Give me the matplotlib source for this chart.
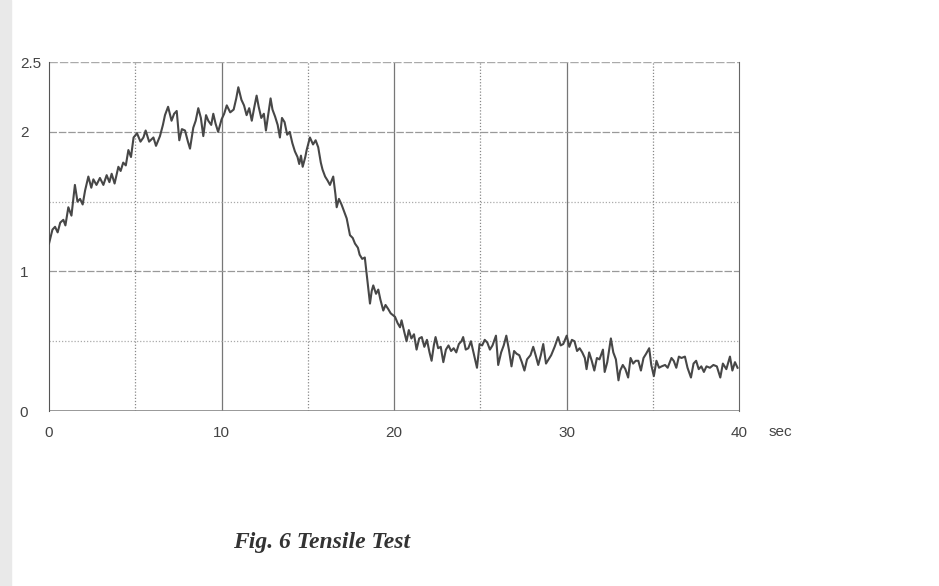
import matplotlib
matplotlib.use("Agg")
import matplotlib.pyplot as plt
from matplotlib.patches import Rectangle

# time (sec) and force readings
t = [0.0, 0.2, 0.35, 0.5, 0.65, 0.83, 0.95, 1.12, 1.3, 1.5, 1.65, 1.8, 1.95, 2.09, 2.28,
     2.45, 2.57, 2.75, 2.95, 3.15, 3.34, 3.5, 3.63, 3.8, 4.02, 4.15, 4.3, 4.45, 4.6, 4.75,
     4.9, 5.1, 5.3, 5.47, 5.6, 5.8, 6.05, 6.2, 6.43, 6.6, 6.72, 6.9, 7.1, 7.25, 7.4,
     7.55, 7.7, 7.88, 8.05, 8.17, 8.36, 8.5, 8.65, 8.8, 8.94, 9.1, 9.23, 9.4, 9.52, 9.65,
     9.8, 10.0, 10.15, 10.3, 10.5, 10.7, 10.85, 10.97, 11.15, 11.3, 11.45, 11.6, 11.75, 11.9, 12.03,
     12.15, 12.3, 12.45, 12.57, 12.7, 12.84, 12.95, 13.1, 13.25, 13.38, 13.5, 13.65, 13.8, 13.95, 14.1,
     14.25, 14.4, 14.5, 14.6, 14.7, 14.85, 14.93, 15.12, 15.3, 15.45, 15.6, 15.75, 15.85, 16.0, 16.15,
     16.28, 16.47, 16.6, 16.67, 16.8, 16.95, 17.1, 17.25, 17.44, 17.6, 17.73, 17.9, 18.0, 18.15, 18.3,
     18.4, 18.5, 18.6, 18.7, 18.79, 18.95, 19.08, 19.2, 19.37, 19.5, 19.66, 19.8, 20.05, 20.2, 20.34,
     20.43, 20.6, 20.72, 20.85, 21.0, 21.15, 21.3, 21.45, 21.6, 21.75, 21.9, 22.05, 22.17, 22.3, 22.4,
     22.55, 22.7, 22.85, 23.0, 23.15, 23.3, 23.45, 23.6, 23.75, 23.9, 24.0, 24.15, 24.3, 24.45, 24.6,
     24.8, 24.95, 25.1, 25.25, 25.4, 25.55, 25.7, 25.9, 26.03, 26.2, 26.35, 26.5, 26.65, 26.8, 26.95,
     27.1, 27.25, 27.4, 27.55, 27.7, 27.9, 28.06, 28.2, 28.35, 28.5, 28.64, 28.8, 28.95, 29.1, 29.3,
     29.5, 29.65, 29.8, 30.0, 30.15, 30.3, 30.45, 30.6, 30.75, 30.9, 31.05, 31.15, 31.3, 31.45, 31.6,
     31.75, 31.9, 32.1, 32.2, 32.35, 32.56, 32.7, 32.85, 33.0, 33.1, 33.25, 33.4, 33.56, 33.7, 33.85,
     34.0, 34.15, 34.3, 34.45, 34.6, 34.78, 34.9, 35.05, 35.2, 35.35, 35.5, 35.7, 35.85, 36.07, 36.2,
     36.35, 36.5, 36.65, 36.85, 37.0, 37.2, 37.35, 37.5, 37.65, 37.8, 37.95, 38.1, 38.3, 38.5, 38.7,
     38.9, 39.05, 39.25, 39.46, 39.6, 39.75, 39.9]
force = [1.20, 1.30, 1.32, 1.28, 1.35, 1.37, 1.33, 1.46, 1.40, 1.62, 1.50, 1.52, 1.48, 1.58, 1.68,
         1.60, 1.66, 1.62, 1.67, 1.62, 1.69, 1.64, 1.70, 1.63, 1.75, 1.72, 1.78, 1.76, 1.87, 1.82,
         1.96, 1.99, 1.93, 1.96, 2.01, 1.93, 1.96, 1.90, 1.97, 2.05, 2.12, 2.18, 2.08, 2.13, 2.15,
         1.94, 2.02, 2.01, 1.93, 1.88, 2.03, 2.08, 2.17, 2.10, 1.97, 2.12, 2.08, 2.05, 2.13, 2.06,
         2.00, 2.09, 2.13, 2.19, 2.14, 2.16, 2.24, 2.32, 2.23, 2.19, 2.12, 2.17, 2.08, 2.18, 2.26,
         2.18, 2.10, 2.13, 2.01, 2.12, 2.24, 2.16, 2.11, 2.05, 1.96, 2.10, 2.07, 1.98, 2.00, 1.92,
         1.86, 1.82, 1.77, 1.83, 1.75, 1.82, 1.87, 1.96, 1.91, 1.94, 1.89, 1.78, 1.73, 1.68, 1.65,
         1.62, 1.68, 1.55, 1.46, 1.52, 1.48, 1.43, 1.38, 1.26, 1.24, 1.20, 1.17, 1.12, 1.09, 1.10,
         0.99, 0.88, 0.77, 0.86, 0.90, 0.84, 0.87, 0.80, 0.72, 0.76, 0.73, 0.70, 0.675, 0.63, 0.60,
         0.65, 0.56, 0.50, 0.58, 0.52, 0.55, 0.44, 0.52, 0.53, 0.46, 0.51, 0.42, 0.36, 0.47, 0.53,
         0.45, 0.46, 0.35, 0.44, 0.47, 0.43, 0.45, 0.42, 0.48, 0.50, 0.53, 0.44, 0.45, 0.50, 0.42,
         0.31, 0.48, 0.47, 0.51, 0.49, 0.44, 0.47, 0.54, 0.33, 0.42, 0.47, 0.54, 0.44, 0.32, 0.43,
         0.41, 0.40, 0.35, 0.29, 0.37, 0.40, 0.46, 0.40, 0.33, 0.40, 0.48, 0.34, 0.37, 0.40, 0.46,
         0.53, 0.47, 0.48, 0.54, 0.46, 0.51, 0.50, 0.43, 0.45, 0.42, 0.38, 0.30, 0.42, 0.36, 0.29,
         0.38, 0.37, 0.44, 0.28, 0.35, 0.52, 0.42, 0.37, 0.22, 0.29, 0.33, 0.30, 0.24, 0.38, 0.34,
         0.36, 0.36, 0.29, 0.38, 0.41, 0.45, 0.33, 0.25, 0.36, 0.31, 0.32, 0.33, 0.31, 0.38, 0.36,
         0.31, 0.39, 0.38, 0.39, 0.31, 0.24, 0.34, 0.36, 0.30, 0.32, 0.28, 0.32, 0.31, 0.33, 0.32,
         0.24, 0.34, 0.30, 0.39, 0.29, 0.35, 0.31]

x_ticks = [0, 10, 20, 30, 40]
y_ticks = [0, 1, 2, 2.5]
y_labels = ["0", "1", "2", "2.5"]
x_unit = "sec"
caption = "Fig. 6 Tensile Test"

plt.rcParams["font.family"] = ["Liberation Sans", "DejaVu Sans"]

fig = plt.figure(figsize=(9.39, 5.86), dpi=100)
# faint scanner shadow on the left edge
fig.patches.append(Rectangle((0, 0), 0.012, 1, transform=fig.transFigure,
                             color="#e9e9e9", zorder=0))

ax = fig.add_axes([0.0522, 0.2986, 0.7351, 0.5954])
ax.set_xlim(0, 40)
ax.set_ylim(0, 2.5)

# grid: solid lines at decades, dotted in between
for xv in [10, 20, 30]:
    ax.axvline(xv, color="#777777", lw=0.9, zorder=1)
for xv in [5, 15, 25, 35]:
    ax.axvline(xv, color="#888888", lw=0.9, ls=(0, (1, 1.5)), zorder=1)
for yv in [1, 2]:
    ax.axhline(yv, color="#999999", lw=0.9, ls=(0, (6, 1.5)), zorder=1)
for yv in [0.5, 1.5]:
    ax.axhline(yv, color="#aaaaaa", lw=0.9, ls=(0, (1, 1.5)), zorder=1)
ax.axhline(2.5, color="#aaaaaa", lw=1.0, ls=(0, (6, 1.5)), zorder=1)
ax.axhline(0, color="#888888", lw=1.2, zorder=1)

ax.plot(t, force, color="#474747", lw=1.5, zorder=3)

for s in ["top", "bottom"]:
    ax.spines[s].set_visible(False)
ax.spines["left"].set_color("#555555")
ax.spines["right"].set_color("#666666")

ax.set_xticks(x_ticks)
ax.set_xticklabels([str(v) for v in x_ticks])
ax.set_yticks(y_ticks)
ax.set_yticklabels(y_labels, ha="left")
ax.tick_params(length=0, labelsize=11, colors="#444444")
ax.tick_params(axis="x", pad=11)
ax.tick_params(axis="y", pad=21)

ax.text(1.042, -0.059, x_unit, transform=ax.transAxes, fontsize=11,
        color="#444444", ha="left", va="center")

fig.text(0.342, 0.075, caption, family=["Liberation Serif", "DejaVu Serif"],
         style="italic", weight="bold", fontsize=17, color="#333333",
         ha="center", va="center")

fig.savefig("out.png", dpi=100)
